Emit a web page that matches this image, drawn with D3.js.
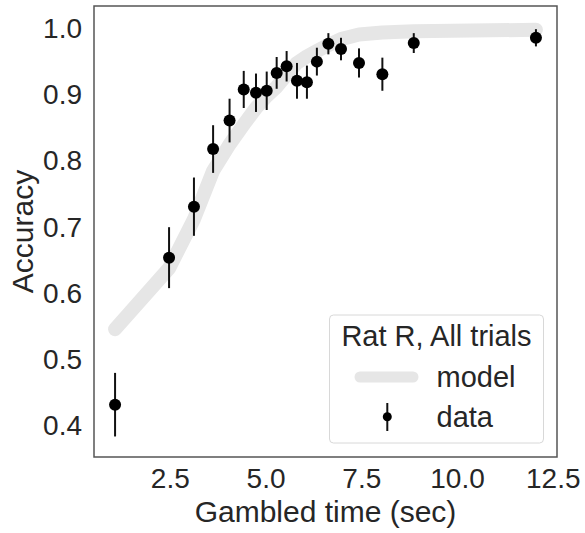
<!DOCTYPE html>
<html>
<meta charset="utf-8">
<head>
<title>Rat R, All trials</title>
<style>
  body { margin: 0; background: #fff; }
  text { font-family: "Liberation Sans", Arial, sans-serif; fill: #262626; }
  .axis text { font-size: 28px; }
  .axis path, .axis line { display: none; }
</style>
</head>
<body>
<script src="https://d3js.org/d3.v7.min.js"></script>
<script>

// gambled time (sec) of each bin
var times = [1.07, 2.48, 3.13, 3.63, 4.06, 4.43, 4.75, 5.03, 5.29, 5.55, 5.82, 6.08, 6.34, 6.64, 6.97, 7.44, 8.05, 8.87, 12.06];
// observed accuracy and its error (half bar length)
var accuracy = [0.432, 0.654, 0.731, 0.818, 0.861, 0.908, 0.903, 0.906, 0.933, 0.943, 0.921, 0.919, 0.950, 0.977, 0.969, 0.948, 0.931, 0.978, 0.986];
var errors = [0.048, 0.046, 0.044, 0.036, 0.033, 0.028, 0.029, 0.029, 0.024, 0.023, 0.027, 0.025, 0.021, 0.016, 0.017, 0.022, 0.025, 0.015, 0.013];
// model prediction
var model = [0.546, 0.638, 0.712, 0.785, 0.825, 0.855, 0.88, 0.898, 0.912, 0.93, 0.948, 0.958, 0.966, 0.975, 0.984, 0.991, 0.994, 0.996, 0.998];

var xTicks = [2.5, 5.0, 7.5, 10.0, 12.5];
var yTicks = [0.4, 0.5, 0.6, 0.7, 0.8, 0.9, 1.0];

var width = 585, height = 533;
var plot = {left: 94, right: 557, top: 6, bottom: 457};

var x = d3.scaleLinear().domain([0.52, 12.61]).range([plot.left, plot.right]);
var y = d3.scaleLinear().domain([0.353, 1.034]).range([plot.bottom, plot.top]);

var svg = d3.select("body").append("svg")
    .attr("width", width)
    .attr("height", height);

var data = times.map(function(t, i) {
  return {t: t, acc: accuracy[i], err: errors[i], model: model[i]};
});

// model curve
var line = d3.line()
    .x(function(d) { return x(d.t); })
    .y(function(d) { return y(d.model); });

svg.append("path")
    .datum(data)
    .attr("d", line)
    .attr("fill", "none")
    .attr("stroke", "#e6e6e6")
    .attr("stroke-width", 14)
    .attr("stroke-linecap", "round")
    .attr("stroke-linejoin", "round");

// error bars
svg.selectAll(".err")
    .data(data)
    .enter().append("line")
    .attr("x1", function(d) { return x(d.t); })
    .attr("x2", function(d) { return x(d.t); })
    .attr("y1", function(d) { return y(d.acc - d.err); })
    .attr("y2", function(d) { return y(d.acc + d.err); })
    .attr("stroke", "#111")
    .attr("stroke-width", 2);

// points
svg.selectAll(".pt")
    .data(data)
    .enter().append("circle")
    .attr("cx", function(d) { return x(d.t); })
    .attr("cy", function(d) { return y(d.acc); })
    .attr("r", 6)
    .attr("fill", "#000");

// axes
svg.append("g")
    .attr("class", "axis")
    .attr("transform", "translate(0," + plot.bottom + ")")
    .call(d3.axisBottom(x).tickValues(xTicks).tickFormat(d3.format(".1f")).tickSize(0).tickPadding(11));

svg.append("g")
    .attr("class", "axis")
    .attr("transform", "translate(" + plot.left + ",0)")
    .call(d3.axisLeft(y).tickValues(yTicks).tickFormat(d3.format(".1f")).tickSize(0).tickPadding(12));

// frame
svg.append("rect")
    .attr("x", plot.left)
    .attr("y", plot.top)
    .attr("width", plot.right - plot.left)
    .attr("height", plot.bottom - plot.top)
    .attr("fill", "none")
    .attr("stroke", "#555")
    .attr("stroke-width", 1.5);

// axis labels
svg.append("text")
    .attr("x", (plot.left + plot.right) / 2)
    .attr("y", 522)
    .attr("text-anchor", "middle")
    .style("font-size", "30px")
    .text("Gambled time (sec)");

svg.append("text")
    .attr("transform", "translate(33," + (plot.top + plot.bottom) / 2 + ") rotate(-90)")
    .attr("text-anchor", "middle")
    .style("font-size", "30px")
    .text("Accuracy");

// legend
var lg = svg.append("g");
lg.append("rect")
    .attr("x", 329.5).attr("y", 315)
    .attr("width", 214).attr("height", 128)
    .attr("rx", 4)
    .attr("fill", "#fff").attr("fill-opacity", 0.8)
    .attr("stroke", "#d8d8d8").attr("stroke-width", 1);

lg.append("text")
    .attr("x", 436.5).attr("y", 346)
    .attr("text-anchor", "middle")
    .style("font-size", "29px")
    .text("Rat R, All trials");

lg.append("line")
    .attr("x1", 360).attr("x2", 413)
    .attr("y1", 377).attr("y2", 377)
    .attr("stroke", "#e6e6e6")
    .attr("stroke-width", 11)
    .attr("stroke-linecap", "round");

lg.append("text")
    .attr("x", 436.5).attr("y", 387)
    .style("font-size", "29px")
    .text("model");

lg.append("line")
    .attr("x1", 387.3).attr("x2", 387.3)
    .attr("y1", 403).attr("y2", 431)
    .attr("stroke", "#111").attr("stroke-width", 2);

lg.append("circle")
    .attr("cx", 387.3).attr("cy", 416.7)
    .attr("r", 4.5).attr("fill", "#000");

lg.append("text")
    .attr("x", 436.5).attr("y", 427)
    .style("font-size", "29px")
    .text("data");

</script>
</body>
</html>
